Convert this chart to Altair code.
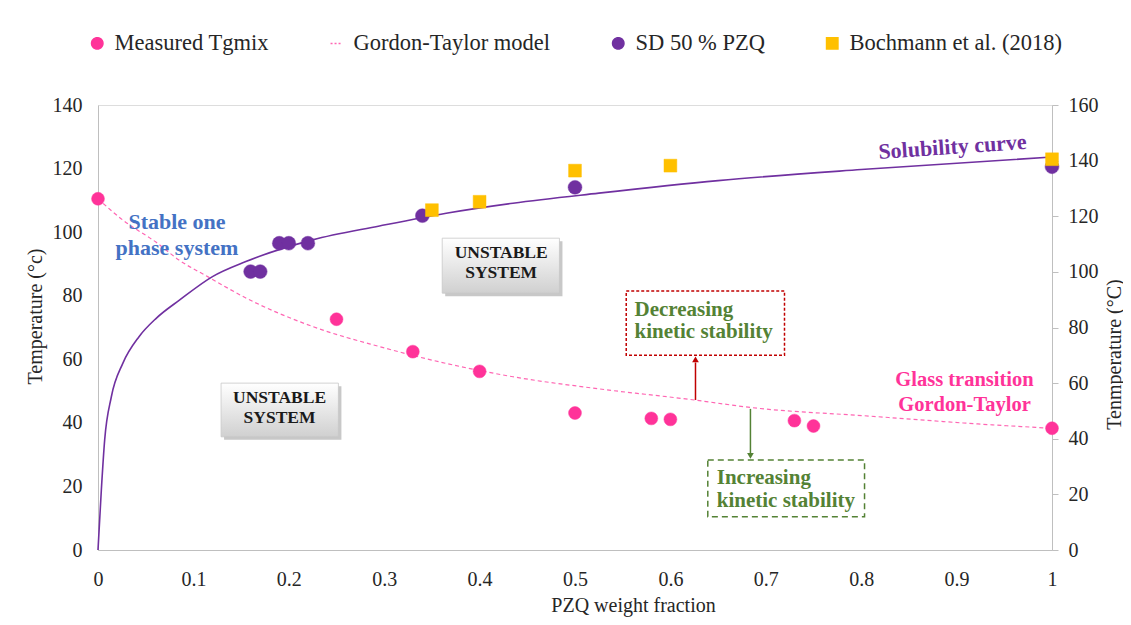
import altair as alt
import pandas as pd

# ---------------- data ----------------
x_ticks = [0, 0.1, 0.2, 0.3, 0.4, 0.5, 0.6, 0.7, 0.8, 0.9, 1.0]
left_ticks = [0, 20, 40, 60, 80, 100, 120, 140]
right_ticks = [0, 20, 40, 60, 80, 100, 120, 140, 160]

series_names = ["Measured Tgmix", "Gordon-Taylor model", "SD 50 % PZQ", "Bochmann et al. (2018)"]

measured_x = [0, 0.25, 0.33, 0.40, 0.50, 0.58, 0.60, 0.73, 0.75, 1.0]
measured_t = [110.5, 72.6, 62.4, 56.2, 43.1, 41.4, 41.1, 40.7, 39.0, 38.3]

gt_x = [0, 0.026, 0.061, 0.085, 0.115, 0.155, 0.225, 0.295, 0.365, 0.435, 0.525, 0.625, 0.685, 0.81, 0.92, 1.0]
gt_t = [110.5, 103.8, 96.8, 91.2, 86.0, 79.3, 70.3, 64.0, 58.7, 54.5, 50.7, 47.2, 44.8, 42.1, 39.7, 38.3]

sol_x = [0, 0.0035, 0.007, 0.014, 0.026, 0.043, 0.061, 0.086, 0.12, 0.155, 0.225, 0.295, 0.365, 0.435, 0.525, 0.65, 0.8, 1.0]
sol_t = [0, 21.6, 39.6, 55.1, 67.1, 76.7, 83.3, 90.0, 98.3, 103.7, 111.5, 116.5, 121.1, 124.7, 128.3, 132.8, 136.8, 141.3]

sd_x = [0.16, 0.17, 0.19, 0.20, 0.22, 0.34, 0.50, 1.0]
sd_t = [100.1, 100.1, 110.3, 110.3, 110.3, 120.2, 130.4, 137.8]

boch_x = [0.35, 0.40, 0.50, 0.60, 1.0]
boch_t = [122.2, 125.2, 136.4, 138.2, 140.5]

# annotation texts (anchored in data units of the left axis; y = first line)
stable_text = ["Stable one", "phase system"]
unstable_text = ["UNSTABLE", "SYSTEM"]
unstable_x = [0.1903, 0.4226]
unstable_t = [47.7, 93.5]
unstable_x1 = [0.129, 0.3608]
unstable_x2 = [0.252, 0.4837]
unstable_t1 = [52.5, 98.1]
unstable_t2 = [35.6, 80.8]
decr_text = ["Decreasing", "kinetic stability"]
incr_text = ["Increasing", "kinetic stability"]
glass_text = ["Glass transition", "Gordon-Taylor"]
sol_label = "Solubility curve"

PINK = "#FF3399"
PINK_LINE = "#FF66B3"
PURPLE = "#7030A0"
GOLD = "#FFC000"
BLUE = "#4472C4"
GREEN = "#548235"
RED = "#C00000"
FONT = "Liberation Serif"
INK = "#262626"

# ---------------- scales / axes ----------------
xs = alt.Scale(domain=[0, 1], nice=False, zero=False)
ls = alt.Scale(domain=[0, 140], nice=False)
rs = alt.Scale(domain=[0, 160], nice=False)

common_axis = dict(grid=False, labelFont=FONT, titleFont=FONT, labelFontSize=20, titleFontSize=20,
                   titleFontWeight="normal", domainColor="#BFBFBF", labelColor=INK,
                   titleColor=INK, labelFlush=False, titleBaseline="middle", titleAlign="center")
x_axis = alt.Axis(values=x_ticks, format="~g", title="PZQ weight fraction", ticks=False,
                  labelPadding=19, titleX=535, titleY=55, **common_axis)
left_axis = alt.Axis(values=left_ticks, title="Temperature (°c)", orient="left", ticks=False,
                     labelPadding=16, titleAngle=270, titleX=-63, titleY=211, **common_axis)
right_axis = alt.Axis(values=right_ticks, title="Tenmperature (°C)", orient="right", ticks=True,
                      tickSize=6, tickColor="#BFBFBF", labelPadding=10, titleAngle=270,
                      titleX=62, titleY=249, **common_axis)

series_colors = [PINK, PINK_LINE, PURPLE, GOLD]
legend = alt.Legend(
    title=None, orient="none", direction="horizontal", legendX=-12, legendY=-73,
    labelFontSize=22.5, labelFont=FONT, labelColor=INK, labelOffset=6, labelLimit=400,
    columnPadding=56, symbolOpacity=1, symbolStrokeWidth=1.5, symbolSize=130,
)
fill_enc = alt.Fill("series:N", scale=alt.Scale(domain=series_names, range=series_colors), legend=legend)
stroke_enc = alt.Stroke("series:N", scale=alt.Scale(domain=series_names, range=series_colors), legend=legend)
shape_enc = alt.Shape("series:N", scale=alt.Scale(domain=series_names, range=["circle", "stroke", "circle", "square"]), legend=legend)
dash_enc = alt.StrokeDash("series:N", scale=alt.Scale(domain=series_names, range=[[1, 0], [2, 2], [1, 0], [1, 0]]), legend=legend)

X = lambda f="x": alt.X(f"{f}:Q", scale=xs, axis=x_axis)
YL = lambda f="t": alt.Y(f"{f}:Q", scale=ls, axis=left_axis)
YR = lambda f="t": alt.Y(f"{f}:Q", scale=rs, axis=right_axis)

measured_df = pd.DataFrame({"x": measured_x, "t": measured_t, "series": series_names[0]})
gt_df = pd.DataFrame({"x": gt_x, "t": gt_t, "series": series_names[1]})
sd_df = pd.DataFrame({"x": sd_x, "t": sd_t, "series": series_names[2]})
boch_df = pd.DataFrame({"x": boch_x, "t": boch_t, "series": series_names[3]})
sol_df = pd.DataFrame({"x": sol_x, "t": sol_t})

gt_line = alt.Chart(gt_df).mark_line(strokeWidth=1.2, interpolate="monotone").encode(
    x=X(), y=YL(), stroke=stroke_enc, strokeDash=alt.value([4, 3]))


def pts(df, yfn, size):
    return alt.Chart(df).mark_point(filled=True, opacity=1, strokeWidth=0.5, size=size).encode(
        x=X(), y=yfn(), fill=fill_enc, stroke=stroke_enc, shape=shape_enc, strokeDash=dash_enc)


measured = pts(measured_df, YL, 165)


# ---------- annotations ----------
def text_layer(x, t, lines, color, size, align="center", line_height=22, angle=0):
    df = pd.DataFrame({"x": [x], "t": [t], "label": ["\n".join(lines) if isinstance(lines, list) else lines]})
    kw = dict(font=FONT, fontWeight="bold", fontSize=size, color=color, align=align,
              baseline="middle", lineBreak="\n", lineHeight=line_height)
    if angle:
        kw["angle"] = angle
    return alt.Chart(df).mark_text(**kw).encode(x=X(), y=YL(), text="label:N")


ub_df = pd.DataFrame({"x1": unstable_x1, "x2": unstable_x2, "t1": unstable_t1, "t2": unstable_t2})
ub_shadow = alt.Chart(ub_df).mark_rect(fill="#9A9A9A", opacity=0.55, xOffset=3, x2Offset=3,
                                       yOffset=3, y2Offset=3).encode(
    x=X("x1"), x2="x2:Q", y=YL("t1"), y2="t2:Q")
ub_box = alt.Chart(ub_df).mark_rect(
    fill=alt.Gradient(gradient="linear", x1=0, x2=0, y1=0, y2=1,
                      stops=[alt.GradientStop(color="#FFFFFF", offset=0),
                             alt.GradientStop(color="#D0D0D0", offset=1)]),
    stroke="#C8C8C8", strokeWidth=0.8).encode(x=X("x1"), x2="x2:Q", y=YL("t1"), y2="t2:Q")
ub_text = alt.Chart(pd.DataFrame({"x": unstable_x, "t": unstable_t,
                                  "label": ["\n".join(unstable_text)] * 2})).mark_text(
    font=FONT, fontWeight="bold", fontSize=17.5, color="#1A1A1A", align="center",
    baseline="middle", lineBreak="\n", lineHeight=20).encode(x=X(), y=YL(), text="label:N")

red_box = alt.Chart(pd.DataFrame({"x1": [0.5537], "x2": [0.7196], "t1": [81.5], "t2": [61.3]})).mark_rect(
    fill="white", stroke=RED, strokeDash=[3, 2], strokeWidth=1.5).encode(
    x=X("x1"), x2="x2:Q", y=YL("t1"), y2="t2:Q")
green_box = alt.Chart(pd.DataFrame({"x1": [0.6392], "x2": [0.8035], "t1": [28.3], "t2": [10.5]})).mark_rect(
    fill="white", stroke=GREEN, strokeDash=[6, 4], strokeWidth=1.5).encode(
    x=X("x1"), x2="x2:Q", y=YL("t1"), y2="t2:Q")

red_arrow = alt.Chart(pd.DataFrame({"x": [0.6263], "t1": [47.2], "t2": [59.0]})).mark_rule(
    color=RED, strokeWidth=1.5).encode(x=X(), y=YL("t1"), y2="t2:Q")
red_head = alt.Chart(pd.DataFrame({"x": [0.6263], "t": [60.0]})).mark_point(
    shape="triangle-up", filled=True, size=45, color=RED, opacity=1).encode(x=X(), y=YL())
green_arrow = alt.Chart(pd.DataFrame({"x": [0.6839], "t1": [44.4], "t2": [30.5]})).mark_rule(
    color=GREEN, strokeWidth=1.5).encode(x=X(), y=YL("t1"), y2="t2:Q")
green_head = alt.Chart(pd.DataFrame({"x": [0.6839], "t": [29.6]})).mark_point(
    shape="triangle-down", filled=True, size=45, color=GREEN, opacity=1).encode(x=X(), y=YL())

stable = text_layer(0.0828, 103.3, stable_text, BLUE, 22, line_height=26.6)
decr = text_layer(0.5624, 75.5, decr_text, GREEN, 21, align="left", line_height=22)
incr = text_layer(0.6486, 22.7, incr_text, GREEN, 21, align="left", line_height=23.3)
glass = text_layer(0.9083, 53.5, glass_text, PINK, 20.5, line_height=25)
sol_txt = text_layer(0.8957, 126.8, sol_label, PURPLE, 22, angle=356)

left_group = alt.layer(gt_line, measured, stable, ub_shadow, ub_box, ub_text,
                       red_arrow, red_head, green_arrow, green_head,
                       red_box, green_box, decr, incr, glass, sol_txt)

sol_line = alt.Chart(sol_df).mark_line(color=PURPLE, strokeWidth=1.6, interpolate="monotone").encode(
    x=X(), y=YR())
sd_pts = pts(sd_df, YR, 190)
boch_pts = pts(boch_df, YR, 165)

right_group = alt.layer(sol_line, sd_pts, boch_pts)

chart = alt.layer(left_group, right_group).resolve_scale(y="independent").properties(
    width=954, height=445,
    autosize=alt.AutoSizeParams(type="none"),
    padding={"left": 90, "top": 97, "right": 71, "bottom": 67},
).configure_view(stroke=None).configure(font=FONT)

chart.save("out.html", embed_options={"renderer": "svg", "actions": False})
